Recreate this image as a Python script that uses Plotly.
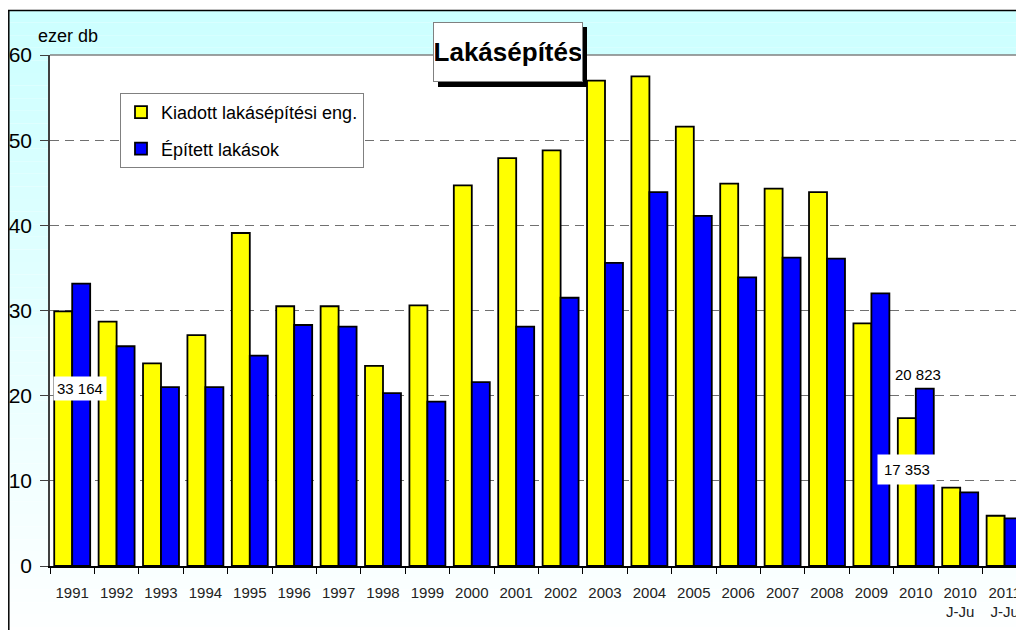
import plotly.graph_objects as go

categories = ["1991", "1992", "1993", "1994", "1995", "1996", "1997", "1998", "1999", "2000",
              "2001", "2002", "2003", "2004", "2005", "2006", "2007", "2008", "2009", "2010",
              "2010<br>J-Ju", "2011<br>J-Ju"]
permits = [29.9, 28.7, 23.8, 27.1, 39.1, 30.5, 30.5, 23.5, 30.6, 44.7,
           47.9, 48.8, 57.0, 57.5, 51.6, 44.9, 44.3, 43.9, 28.5, 17.353,
           9.2, 5.9]
built = [33.164, 25.8, 21.0, 21.0, 24.7, 28.3, 28.1, 20.3, 19.3, 21.6,
         28.1, 31.5, 35.6, 43.9, 41.1, 33.9, 36.2, 36.1, 32.0, 20.823,
         8.65, 5.6]
y_ticks = [0, 10, 20, 30, 40, 50, 60]
series_names = ["Kiadott lakásépítési eng.", "Épített lakások"]

# the page body has an 8px margin; screen coordinates = figure coordinates + 8
OFF = 8
W, H = 1024 - OFF, 630 - OFF
L, R, T, B = 42, 0, 47, 64
PW, PH = W - L - R, H - T - B
CAT_W = 44.4


def px(xs):
    return (xs - OFF - L) / PW


def py(ys):
    return (H - B - (ys - OFF)) / PH


def fmt(v):
    return f"{v * 1000:,.0f}".replace(",", " ")


FONT = "Liberation Sans, Arial, sans-serif"

fig = go.Figure()
fig.add_trace(go.Bar(
    x=categories, y=permits, name=series_names[0], legendgroup="a",
    marker=dict(color="#ffff00", line=dict(color="#000000", width=1.8)),
))
fig.add_trace(go.Bar(
    x=categories, y=built, name=series_names[1], legendgroup="b",
    marker=dict(color="#0000ff", line=dict(color="#000000", width=1.8)),
))

shapes = []
# gradient background of the chart frame
n = 50
y_top, y_bot = 10, 640
for i in range(n):
    ya = y_top + (y_bot - y_top) * i / n
    yb = y_top + (y_bot - y_top) * (i + 1) / n
    t = i / (n - 1)
    r = int(204 + (255 - 204) * t)
    shapes.append(dict(type="rect", xref="paper", yref="paper", layer="below",
                       x0=px(7), x1=px(1040), y0=py(yb), y1=py(ya),
                       fillcolor=f"rgb({r},255,255)", line=dict(width=0)))
# white plot area
shapes.append(dict(type="rect", xref="paper", yref="paper", layer="below",
                   x0=0, x1=1.02, y0=0, y1=1, fillcolor="#ffffff", line=dict(width=0)))
# frame border
shapes.append(dict(type="line", xref="paper", yref="paper", layer="above",
                   x0=px(8.8), x1=px(8.8), y0=py(10), y1=py(650), line=dict(color="#000000", width=1.5)))
shapes.append(dict(type="line", xref="paper", yref="paper", layer="above",
                   x0=px(8), x1=px(1040), y0=py(10.5), y1=py(10.5), line=dict(color="#000000", width=1.5)))
# top border of plot area
shapes.append(dict(type="line", xref="paper", yref="paper", layer="above",
                   x0=0, x1=1.02, y0=1, y1=1, line=dict(color="#808080", width=1.5)))
# title shadow
shapes.append(dict(type="rect", xref="paper", yref="paper", layer="above",
                   x0=px(438), x1=px(587), y0=py(87), y1=py(27),
                   fillcolor="#000000", line=dict(width=0)))

annotations = [
    dict(text="<b>Lakásépítés</b>", xref="paper", yref="paper", x=px(508), y=py(52),
         xanchor="center", yanchor="middle", showarrow=False, width=146, height=56,
         bgcolor="#ffffff", bordercolor="#808080", borderwidth=1, borderpad=1,
         font=dict(family=FONT, size=26, color="#000000")),
    dict(text="ezer db", xref="paper", yref="paper", x=px(36), y=py(36),
         xanchor="left", yanchor="middle", showarrow=False,
         font=dict(family=FONT, size=18, color="#000000")),
    dict(text=fmt(built[0]), xref="x", yref="y", x=0, y=20.9, xshift=8,
         showarrow=False, bgcolor="#ffffff", borderpad=3,
         font=dict(family=FONT, size=15, color="#000000")),
    dict(text=fmt(built[19]), xref="x", yref="y", x=19, y=built[19], xshift=2,
         yanchor="bottom", yshift=4, showarrow=False,
         font=dict(family=FONT, size=15, color="#000000")),
    dict(text=fmt(permits[19]), xref="x", yref="y", x=19, y=11.3, xshift=-9,
         showarrow=False, bgcolor="#ffffff", borderpad=6,
         font=dict(family=FONT, size=15, color="#000000")),
]

fig.update_layout(
    width=W, height=H,
    margin=dict(l=L, r=R, t=T, b=B, autoexpand=False),
    paper_bgcolor="#ffffff", plot_bgcolor="rgba(0,0,0,0)",
    barmode="group", bargap=0.19, bargroupgap=0,
    font=dict(family=FONT, color="#000000"),
    shapes=shapes, annotations=annotations,
    showlegend=True,
    legend=dict(x=px(120), y=py(93), xanchor="left", yanchor="top",
                bgcolor="#ffffff", bordercolor="#808080", borderwidth=1,
                font=dict(family=FONT, size=18, color="#000000"),
                traceorder="grouped", tracegroupgap=10, itemwidth=30),
    xaxis=dict(type="category", range=[-0.5, PW / CAT_W - 0.5],
               showline=True, linecolor="#000000", linewidth=1.5,
               ticks="outside", ticklen=6, tickcolor="#000000", tickwidth=1.2,
               tickson="boundaries", showgrid=False, automargin=False,
               ticklabelstandoff=12,
               tickfont=dict(family=FONT, size=15, color="#222222")),
    yaxis=dict(range=[0, 60], tickvals=y_ticks, showline=True, linecolor="#404040",
               linewidth=1.5, ticks="outside", ticklen=8, tickcolor="#404040",
               showgrid=True, gridcolor="#707070", griddash="9px,6px", gridwidth=1,
               zeroline=False, automargin=False, ticklabelstandoff=4,
               tickfont=dict(family=FONT, size=21, color="#000000")),
)

fig.write_html("out.html")
